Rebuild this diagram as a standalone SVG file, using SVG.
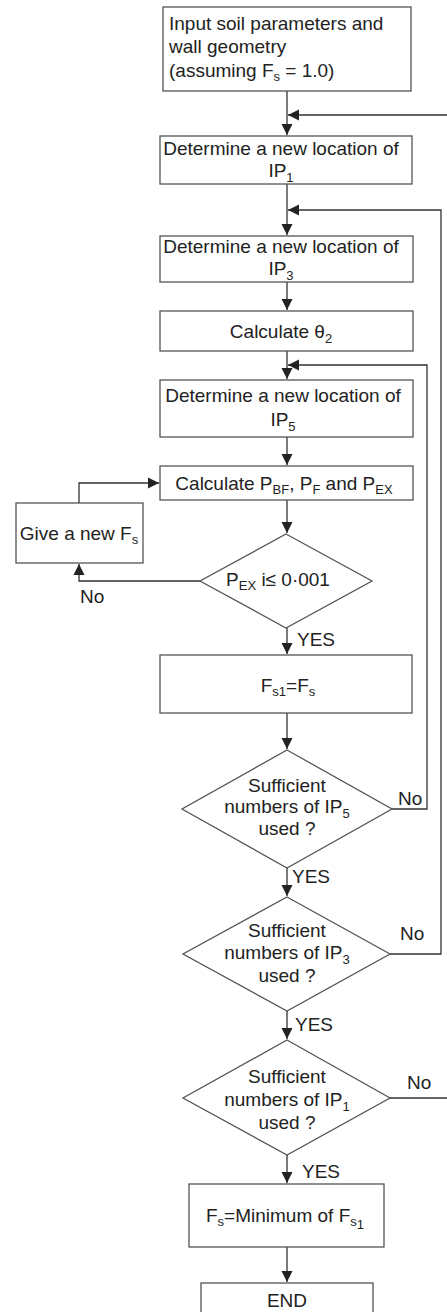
<svg xmlns="http://www.w3.org/2000/svg" width="447" height="1312" viewBox="0 0 447 1312">
<defs>
<style>
.box{fill:#fff;stroke:#555;stroke-width:1.3}
.ln{fill:none;stroke:#333;stroke-width:1.3}
text{font-family:"Liberation Sans",Arial,Helvetica,sans-serif;font-size:19px;fill:#222}
.c{text-anchor:middle}
.sub{font-size:13px}
</style>
<marker id="ah" markerUnits="userSpaceOnUse" markerWidth="12" markerHeight="12" refX="11" refY="6" orient="auto">
<path d="M0,0.5 L11,6 L0,11.5 z" fill="#222"/>
</marker>
</defs>
<rect width="447" height="1312" fill="#fff"/>

<g id="connectors">
<path class="ln" d="M287,91 V135" marker-end="url(#ah)"/>
<path class="ln" d="M390,1098 H452 V115 H288" marker-end="url(#ah)"/>
<path class="ln" d="M287,184 V235" marker-end="url(#ah)"/>
<path class="ln" d="M390,954 H441 V210 H288" marker-end="url(#ah)"/>
<path class="ln" d="M287,282 V310" marker-end="url(#ah)"/>
<path class="ln" d="M287,351 V379" marker-end="url(#ah)"/>
<path class="ln" d="M392,809 H427 V365 H288" marker-end="url(#ah)"/>
<path class="ln" d="M287,437 V465" marker-end="url(#ah)"/>
<path class="ln" d="M287,500 V533" marker-end="url(#ah)"/>
<path class="ln" d="M200,581 H79 V564" marker-end="url(#ah)"/>
<path class="ln" d="M79,503 V483 H159" marker-end="url(#ah)"/>
<path class="ln" d="M287,628 V654" marker-end="url(#ah)"/>
<path class="ln" d="M287,713 V749" marker-end="url(#ah)"/>
<path class="ln" d="M287,868 V896" marker-end="url(#ah)"/>
<path class="ln" d="M287,1011 V1039" marker-end="url(#ah)"/>
<path class="ln" d="M287,1155 V1183" marker-end="url(#ah)"/>
<path class="ln" d="M287,1247 V1282" marker-end="url(#ah)"/>
<text x="80" y="603">No</text>
<text x="297" y="646">YES</text>
<text x="398" y="805">No</text>
<text x="292" y="883">YES</text>
<text x="400" y="940">No</text>
<text x="295" y="1031">YES</text>
<text x="407" y="1089">No</text>
<text x="302" y="1178">YES</text>
</g>

<g id="input">
<rect class="box" x="163" y="7" width="248" height="84"/>
<text x="169" y="30">Input soil parameters and</text>
<text x="169" y="53">wall geometry</text>
<text x="169" y="77">(assuming F<tspan class="sub" dy="4">s</tspan><tspan dy="-4"> = 1.0)</tspan></text>
</g>

<g id="ip1">
<rect class="box" x="160" y="136" width="252" height="48"/>
<text class="c" x="281" y="155">Determine a new location of</text>
<text class="c" x="281" y="177">IP<tspan class="sub" dy="5">1</tspan></text>
</g>

<g id="ip3">
<rect class="box" x="160" y="236" width="253" height="46"/>
<text class="c" x="281" y="253">Determine a new location of</text>
<text class="c" x="281" y="275">IP<tspan class="sub" dy="5">3</tspan></text>
</g>

<g id="theta">
<rect class="box" x="160" y="311" width="253" height="40"/>
<text class="c" x="281" y="338">Calculate θ<tspan class="sub" dy="5">2</tspan></text>
</g>

<g id="ip5">
<rect class="box" x="160" y="380" width="253" height="57"/>
<text class="c" x="283" y="402">Determine a new location of</text>
<text class="c" x="283" y="426">IP<tspan class="sub" dy="5">5</tspan></text>
</g>

<g id="calcp">
<rect class="box" x="160" y="466" width="253" height="34"/>
<text class="c" x="284" y="490">Calculate P<tspan class="sub" dy="4">BF</tspan><tspan dy="-4">, P</tspan><tspan class="sub" dy="4">F</tspan><tspan dy="-4"> and P</tspan><tspan class="sub" dy="4">EX</tspan></text>
</g>

<g id="newfs">
<rect class="box" x="16" y="503" width="127" height="60"/>
<text class="c" x="79" y="540">Give a new F<tspan class="sub" dy="4">s</tspan></text>
</g>

<g id="check">
<polygon class="box" points="286,534 372,581 286,628 200,581"/>
<text class="c" x="278" y="586">P<tspan class="sub" dy="4">EX</tspan><tspan dy="-4"> i≤ 0·001</tspan></text>
</g>

<g id="fs1">
<rect class="box" x="160" y="655" width="252" height="58"/>
<text class="c" x="288" y="692">F<tspan class="sub" dy="4">s1</tspan><tspan dy="-4">=F</tspan><tspan class="sub" dy="4">s</tspan></text>
</g>

<g id="suff5">
<polygon class="box" points="287,750 392,809 287,868 182,809"/>
<text class="c" x="287" y="792">Sufficient</text>
<text class="c" x="287" y="813">numbers of IP<tspan class="sub" dy="5">5</tspan></text>
<text class="c" x="287" y="835">used ?</text>
</g>

<g id="suff3">
<polygon class="box" points="287,897 390,954 287,1011 183,954"/>
<text class="c" x="287" y="937">Sufficient</text>
<text class="c" x="287" y="959">numbers of IP<tspan class="sub" dy="5">3</tspan></text>
<text class="c" x="287" y="982">used ?</text>
</g>

<g id="suff1">
<polygon class="box" points="287,1040 390,1098 287,1155 183,1098"/>
<text class="c" x="287" y="1083">Sufficient</text>
<text class="c" x="287" y="1106">numbers of IP<tspan class="sub" dy="5">1</tspan></text>
<text class="c" x="287" y="1129">used ?</text>
</g>

<g id="minfs">
<rect class="box" x="189" y="1184" width="195" height="63"/>
<text class="c" x="285" y="1222">F<tspan class="sub" dy="4">s</tspan><tspan dy="-4">=Minimum of F</tspan><tspan class="sub" dy="4">s</tspan><tspan class="sub" font-size="11" dy="3">1</tspan></text>
</g>

<g id="end">
<rect class="box" x="201" y="1283" width="172" height="40"/>
<text class="c" x="287" y="1307">END</text>
</g>
</svg>
